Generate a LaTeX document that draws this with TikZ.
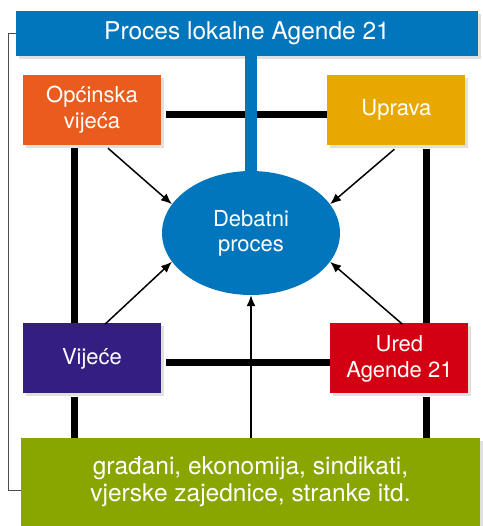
\documentclass[tikz,border=0pt]{standalone}
\usepackage{fontspec}
\setmainfont{TeX Gyre Heros}
\usetikzlibrary{shapes.geometric, positioning, arrows.meta, shadows, calc}
\definecolor{agblue}{RGB}{2,118,189}
\definecolor{opcol}{RGB}{233,92,30}
\definecolor{upcol}{RGB}{232,168,0}
\definecolor{vicol}{RGB}{52,30,130}
\definecolor{urcol}{RGB}{210,0,18}
\definecolor{grcol}{RGB}{137,165,0}
\tikzset{base/.style={draw=none, text=white, align=center, inner sep=0pt},
  shade box/.style={drop shadow={shadow xshift=3pt, shadow yshift=-3pt, fill=black!12, opacity=1}},
  box/.style={base, shade box, minimum width=138pt, minimum height=70pt, font=\fontsize{22}{26}\selectfont},
  bar/.style={line width=7pt},
  link/.style={-{Latex[length=11pt,width=9pt]}, line width=1.5pt}}

\begin{document}
\begin{tikzpicture}[x=1pt, y=-1pt]
    \useasboundingbox (0,0) rectangle (482,526);

    % frame behind everything
    \coordinate (f1) at (481,34);
    \coordinate (f2) at (8,34);
    \coordinate (f3) at (8,490);
    \coordinate (f4) at (22,490);
    \draw[black!70, line width=1pt] (f1) -- (f2) -- (f3) -- (f4);

    \node[base, shade box, fill=agblue, minimum width=462pt, minimum height=45pt,
          font=\fontsize{24.5}{28}\selectfont] (ti) at (247,33.5) {Proces lokalne Agende 21};
    \node[base, ellipse, fill=agblue, minimum width=178pt, minimum height=124pt,
          font=\fontsize{22}{25}\selectfont] (deb) at (251,233) {Debatni\\proces};

    \node[box, fill=opcol] (op) at (92,110) {Općinska\\vijeća};
    \node[box, fill=upcol, right=166pt of op] (up) {Uprava};
    \node[box, fill=vicol, below=178pt of op] (vi) {Vijeće};
    \node[box, fill=urcol, right=169pt of vi] (ur) {Ured\\Agende 21};

    \node[base, shade box, fill=grcol, minimum width=459pt, minimum height=88pt,
          font=\fontsize{24.5}{27}\selectfont] (gr) at (250.5,482)
          {građani, ekonomija, sindikati,\\vjerske zajednice, stranke itd.};

    % thick links
    \coordinate (lx) at (74,0);
    \coordinate (rx) at (426,0);
    \coordinate (ty) at (0,115);
    \coordinate (by) at (0,362);
    \draw[bar, shorten <=5pt] (op.east |- ty) -- (up.west |- ty);
    \draw[bar, shorten <=5pt] (vi.east |- by) -- (ur.west |- by);
    \draw[bar, shorten <=3pt] (op.south -| lx) -- (vi.north -| lx);
    \draw[bar, shorten <=3pt] (vi.south -| lx) -- (gr.north -| lx);
    \draw[bar, shorten <=4pt] (up.south -| rx) -- (ur.north -| rx);
    \draw[bar, shorten <=3pt] (ur.south -| rx) -- (gr.north -| rx);
    \draw[agblue, line width=12pt] (ti.south -| deb.north) -- (deb.north);

    % arrows into the debate
    \draw[link] ([xshift=16pt,yshift=-3pt]op.south) -- (deb.160);
    \draw[link] ([xshift=-2pt,yshift=-4pt]up.south) -- (deb.20);
    \draw[link] ([xshift=13pt,yshift=-1pt]vi.north) -- (deb.200);
    \draw[link] ([xshift=3pt,yshift=-1pt]ur.north) -- (deb.340);
    \draw[link] (gr.north -| deb.south) -- (deb.south);

\end{tikzpicture}
\end{document}
